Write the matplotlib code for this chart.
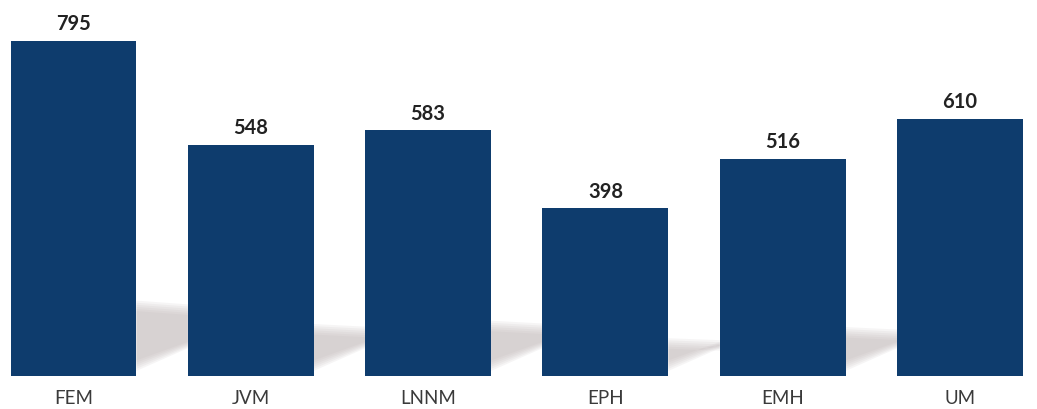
import matplotlib
matplotlib.use("Agg")
import matplotlib.pyplot as plt
from matplotlib.patches import Polygon

categories = ["FEM", "JVM", "LNNM", "EPH", "EMH", "UM"]
values = [795, 548, 583, 398, 516, 610]
value_labels = ["795", "548", "583", "398", "516", "610"]

bar_color = "#0e3c6d"
bar_width = 0.71

fig = plt.figure(figsize=(10.37, 4.10), dpi=100)
ax = fig.add_axes([0, 0.0805, 1, 0.9195])

x = list(range(len(categories)))

# soft grey shadow falling to the right of each bar (stacked layers for blur)
for i in x[:-1]:
    xr = i + bar_width / 2
    xn = i + 1 - bar_width / 2
    top = 0.225 * values[i]
    for k in range(6):
        d = k * 5
        poly = Polygon([(xr, 12 + d), (xr, top - d),
                        (xn, top * 0.95 - d), (xn, 66 + d * 0.6)],
                       closed=True, facecolor="#b8aeb2", edgecolor="none",
                       alpha=0.12, zorder=1)
        ax.add_patch(poly)

ax.bar(x, values, width=bar_width, color=bar_color, zorder=2)

for xi, v, lab in zip(x, values, value_labels):
    ax.text(xi, v + 18, lab, ha="center", va="bottom", fontsize=14.5,
            fontweight="bold", family="Lato", color="#222222")

for xi, c in zip(x, categories):
    ax.text(xi, -50, c, ha="center", va="center", fontsize=13.5,
            family="Lato", color="#3a3a3a")

ax.set_xlim(-0.4145, 5.434)
ax.set_ylim(0, 894.6)
ax.axis("off")

fig.savefig("out.png", dpi=100, facecolor="white")
